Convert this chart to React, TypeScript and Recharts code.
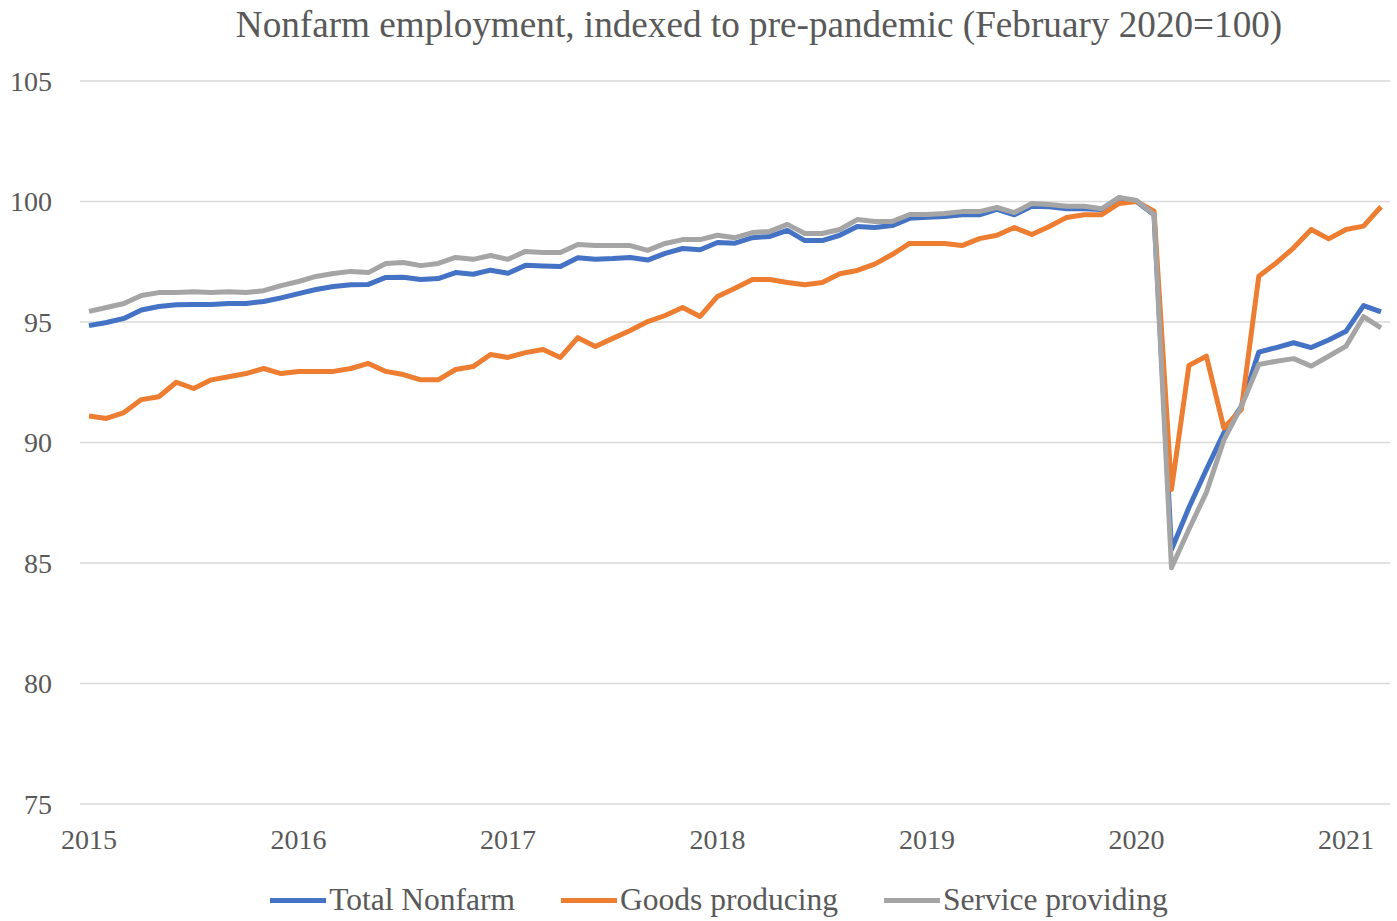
// App.tsx
// Nonfarm employment indexed to Feb 2020 = 100, three monthly series.
import { LineChart, Line, XAxis, YAxis, CartesianGrid } from "recharts";

const FONT = "'Liberation Serif', 'Times New Roman', serif";
const TEXT_COLOR = "#595959";

// monthly categories, Feb 2015 .. Apr 2021 (75 points)
const MONTH_NAMES = ["Jan", "Feb", "Mar", "Apr", "May", "Jun", "Jul", "Aug", "Sep", "Oct", "Nov", "Dec"];
const START_YEAR = 2015;
const START_MONTH = 1;
const N_MONTHS = 75;
const MONTHS = Array.from({ length: N_MONTHS }, (_, i) => {
  const m = START_MONTH + i;
  return MONTH_NAMES[m % 12] + " " + (START_YEAR + Math.floor(m / 12));
});

const TOTAL_NONFARM = [
  94.85, 94.98, 95.15, 95.5, 95.64, 95.72, 95.73, 95.73, 95.77, 95.77,
  95.85, 96.0, 96.18, 96.35, 96.47, 96.55, 96.56, 96.85, 96.86, 96.76,
  96.8, 97.05, 96.98, 97.15, 97.02, 97.35, 97.32, 97.3, 97.67, 97.6,
  97.63, 97.68, 97.57, 97.85, 98.05, 98.0, 98.3, 98.27, 98.5, 98.55,
  98.8, 98.38, 98.38, 98.6, 98.96, 98.92, 99.0, 99.3, 99.35, 99.38,
  99.45, 99.45, 99.67, 99.45, 99.8, 99.78, 99.7, 99.7, 99.67, 100.15,
  100.0, 99.45, 85.56, 87.3, 88.88, 90.4, 91.5, 93.75, 93.94, 94.14,
  93.94, 94.25, 94.62, 95.68, 95.42,
];

const GOODS_PRODUCING = [
  91.1, 91.0, 91.24, 91.78, 91.9, 92.5, 92.24, 92.6, 92.73, 92.86,
  93.07, 92.86, 92.95, 92.95, 92.95, 93.07, 93.28, 92.95, 92.82, 92.6,
  92.6, 93.03, 93.15, 93.65, 93.53, 93.73, 93.86, 93.53, 94.35, 93.98,
  94.32, 94.65, 95.02, 95.27, 95.6, 95.23, 96.06, 96.4, 96.76, 96.76,
  96.64, 96.55, 96.64, 97.0, 97.14, 97.4, 97.8, 98.26, 98.26, 98.26,
  98.17, 98.46, 98.6, 98.92, 98.63, 98.96, 99.34, 99.45, 99.45, 99.92,
  100.0, 99.6, 88.05, 93.2, 93.58, 90.6, 91.37, 96.9, 97.45, 98.08,
  98.84, 98.45, 98.84, 98.98, 99.78,
];

const SERVICE_PROVIDING = [
  95.44, 95.6, 95.77, 96.1, 96.22, 96.22, 96.26, 96.22, 96.26, 96.22,
  96.3, 96.51, 96.68, 96.89, 97.01, 97.1, 97.05, 97.43, 97.47, 97.34,
  97.43, 97.68, 97.6, 97.76, 97.6, 97.93, 97.88, 97.88, 98.22, 98.17,
  98.17, 98.17, 97.97, 98.26, 98.42, 98.42, 98.6, 98.5, 98.71, 98.76,
  99.05, 98.67, 98.67, 98.84, 99.25, 99.17, 99.17, 99.46, 99.46, 99.5,
  99.58, 99.58, 99.75, 99.54, 99.92, 99.88, 99.8, 99.8, 99.7, 100.17,
  100.04, 99.46, 84.8, 86.4, 87.93, 90.1, 91.5, 93.24, 93.37, 93.48,
  93.17, 93.58, 94.0, 95.22, 94.76,
];

const Y_TICKS = [75, 80, 85, 90, 95, 100, 105];

const SERIES = [
  { key: "total", name: "Total Nonfarm", color: "#4472C4" },
  { key: "goods", name: "Goods producing", color: "#ED7D31" },
  { key: "service", name: "Service providing", color: "#A5A5A5" },
];

const data = MONTHS.map((month, i) => ({
  month,
  total: TOTAL_NONFARM[i],
  goods: GOODS_PRODUCING[i],
  service: SERVICE_PROVIDING[i],
}));

export default function App() {
  return (
    <div style={{ position: "absolute", left: 0, top: 0, width: 1397, height: 921, background: "#fff", fontFamily: FONT }}>
      {/* title */}
      <div
        style={{
          position: "absolute", left: 759, top: 3, transform: "translateX(-50%)",
          whiteSpace: "nowrap", fontSize: 37.2, color: TEXT_COLOR,
        }}
      >
        Nonfarm employment, indexed to pre-pandemic (February 2020=100)
      </div>

      <LineChart width={1397} height={921} data={data} margin={{ top: 81, right: 7, left: 0, bottom: 77 }}>
        <CartesianGrid vertical={false} stroke="#d9d9d9" strokeWidth={1.5} />
        <XAxis
          dataKey="month"
          interval={11}
          height={40}
          axisLine={false}
          tickLine={false}
          tickSize={0}
          tickMargin={25}
          padding={{ left: 9, right: 9 }}
          tick={{ fontSize: 28, fill: TEXT_COLOR, fontFamily: FONT }}
          tickFormatter={(v: string) => v.slice(-4)}
        />
        <YAxis
          domain={[75, 105]}
          ticks={Y_TICKS}
          width={80}
          axisLine={false}
          tickLine={false}
          tickSize={0}
          tickMargin={28}
          tick={{ fontSize: 28, fill: TEXT_COLOR, fontFamily: FONT }}
        />
        {SERIES.map((s) => (
          <Line
            key={s.key}
            dataKey={s.key}
            name={s.name}
            stroke={s.color}
            strokeWidth={5}
            strokeLinejoin="round"
            dot={false}
            isAnimationActive={false}
          />
        ))}
      </LineChart>

      {/* legend */}
      <div
        style={{
          position: "absolute", left: 0, top: 882, width: 1438, display: "flex",
          justifyContent: "center", alignItems: "center", fontSize: 31.5, color: TEXT_COLOR,
        }}
      >
        {SERIES.map((s, i) => (
          <div key={s.key} style={{ display: "flex", alignItems: "center", marginLeft: i === 0 ? 0 : 46 }}>
            <span style={{ display: "inline-block", width: 56, height: 5, background: s.color, marginRight: 3 }} />
            <span>{s.name}</span>
          </div>
        ))}
      </div>
    </div>
  );
}
